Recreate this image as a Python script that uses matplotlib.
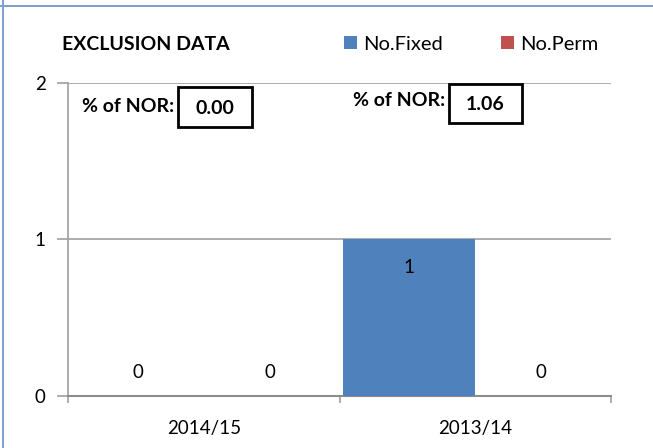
import matplotlib
matplotlib.use('Agg')
import matplotlib.pyplot as plt
import numpy as np

categories = ['2014/15', '2013/14']
no_fixed = [0, 1]
no_perm = [0, 0]
nor_pct = ['0.00', '1.06']

plt.rcParams['font.family'] = ['Lato', 'DejaVu Sans']

W, H = 653, 448
fig = plt.figure(figsize=(W / 100, H / 100), dpi=100)
ax = fig.add_axes([68 / W, 1 - 396 / H, 543 / W, 313 / H])

x = np.arange(len(categories))
w = 0.487
blue = '#4f81bd'
red = '#c0504d'
ax.bar(x - w / 2, no_fixed, w, color=blue, label='No.Fixed', zorder=3)
ax.bar(x + w / 2, no_perm, w, color=red, label='No.Perm', zorder=3)

# data labels
for i in range(len(categories)):
    for off, v in ((-w / 2, no_fixed[i]), (w / 2, no_perm[i])):
        ypos = v - 0.176 if v > 0 else 0.147
        ax.text(i + off, ypos, str(v), ha='center', va='center', fontsize=13.5, zorder=4)

ax.set_xlim(-0.5, 1.5)
ax.set_ylim(0, 2)
ax.set_yticks([0, 1, 2])
ax.set_xticks([-0.5, 0.5, 1.5])
ax.set_xticklabels([])
ax.set_xticks(x, minor=True)
ax.set_xticklabels(categories, minor=True, fontsize=13.5)
ax.tick_params(axis='x', which='minor', length=0, pad=17)
ax.tick_params(axis='x', which='major', length=5, width=1.2, color='#a0a0a0')
ax.tick_params(axis='y', length=8, width=1.2, color='#a0a0a0', labelsize=13.5, pad=8)
ax.yaxis.grid(True, color='#a0a0a0', linewidth=1.2, zorder=0)
for s in ['top', 'right']:
    ax.spines[s].set_visible(False)
ax.spines['left'].set_color('#a0a0a0')
ax.spines['left'].set_linewidth(1.2)
ax.spines['bottom'].set_color('#8c8c8c')
ax.spines['bottom'].set_linewidth(1.5)

fig.text(62 / W, 1 - 44 / H, 'EXCLUSION DATA', fontsize=14, fontweight='bold', va='center')
fig.legend(loc='center left', bbox_to_anchor=(344 / W, 1 - 44 / H), ncol=2, frameon=False,
           fontsize=14.5, handlelength=0.65, handleheight=0.65, handletextpad=0.3,
           columnspacing=2.9, borderaxespad=0, borderpad=0)

# % of NOR boxes
label_pos = [(82, 107), (353, 101)]
box_pos = [(178, 87, 74, 40), (449, 84, 73, 39)]
for (lx, ly), (bx, by, bw, bh), val in zip(label_pos, box_pos, nor_pct):
    fig.text(lx / W, 1 - ly / H, '% of NOR:', fontsize=14, fontweight='bold', va='center', zorder=7)
    fig.add_artist(plt.Rectangle((bx / W, 1 - (by + bh) / H), bw / W, bh / H,
                                 transform=fig.transFigure, facecolor='white',
                                 edgecolor='black', linewidth=2, zorder=5))
    fig.text((bx + bw / 2) / W, 1 - (by + bh / 2 + 1) / H, val, fontsize=14,
             fontweight='bold', ha='center', va='center', zorder=6)

# outer border lines (thin filled strips)
border = '#7f9fcf'
fig.add_artist(plt.Rectangle((0, 1 - 7 / H), 1, 2 / H, transform=fig.transFigure,
                             facecolor=border, edgecolor='none', zorder=8))
fig.add_artist(plt.Rectangle((2 / W, 0), 2 / W, 1 - 5 / H, transform=fig.transFigure,
                             facecolor=border, edgecolor='none', zorder=8))
fig.add_artist(plt.Rectangle((2 / W, 1 - 7 / H), 2 / W, 7 / H, transform=fig.transFigure,
                             facecolor=border, edgecolor='none', zorder=8))

fig.savefig('out.png', dpi=100)
